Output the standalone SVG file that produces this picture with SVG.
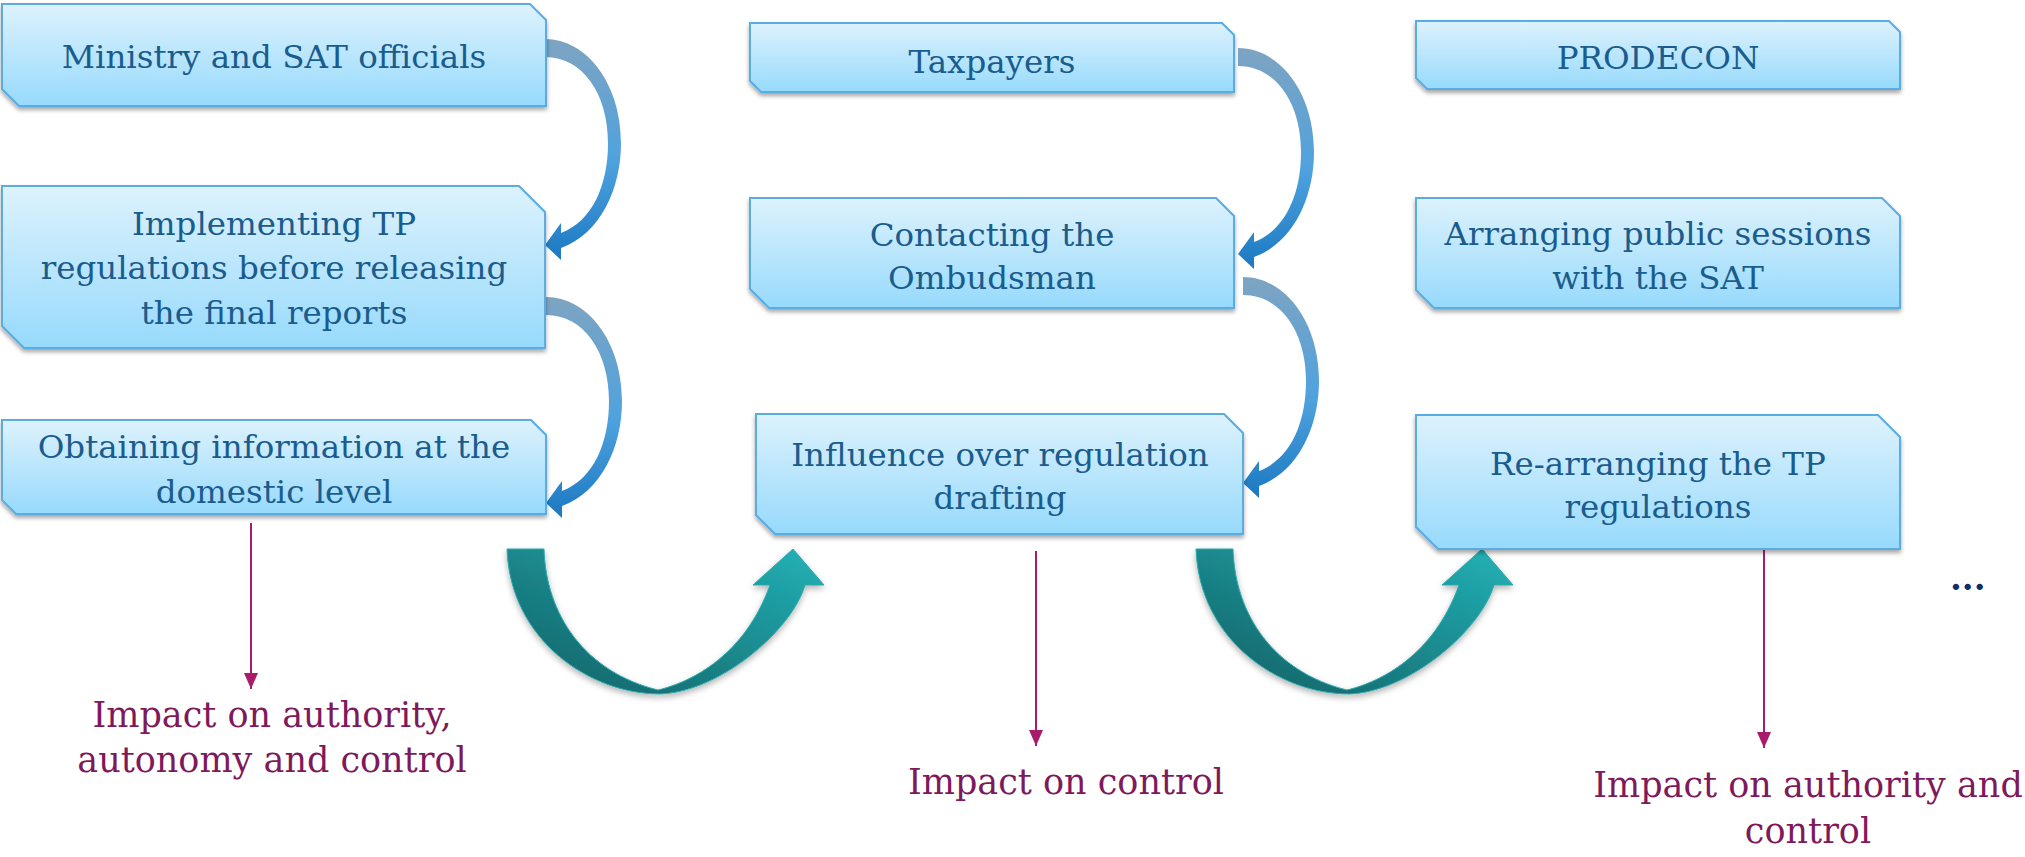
<svg xmlns="http://www.w3.org/2000/svg" width="2025" height="857" viewBox="0 0 2025 857">
<style>
.box{fill:url(#boxGrad);stroke:#5AACE4;stroke-width:2;filter:url(#shadow)}
.t{font-family:"DejaVu Serif","Liberation Serif",serif;font-size:32.5px;fill:#1B5C8E;text-anchor:middle}
.lbl{font-family:"DejaVu Serif","Liberation Serif",serif;font-size:35px;fill:#7E1A5B;text-anchor:middle}
.imp{stroke:#A91C6C;stroke-width:2;fill:none;marker-end:url(#magHead)}
.blue{fill:url(#blueGrad)}
.teal{fill:url(#tealGrad);stroke:#2AAAAE;stroke-width:1;filter:url(#shadow2)}
</style>
<defs>
<linearGradient id="boxGrad" x1="0" y1="0" x2="0" y2="1">
<stop offset="0" stop-color="#DDF2FD"/>
<stop offset="1" stop-color="#97DAFC"/>
</linearGradient>
<linearGradient id="blueGrad" x1="0" y1="0" x2="0" y2="1">
<stop offset="0" stop-color="#7EA4C2"/>
<stop offset="0.55" stop-color="#4FA2DE"/>
<stop offset="1" stop-color="#1B79C2"/>
</linearGradient>
<linearGradient id="tealGrad" x1="0" y1="1" x2="1" y2="0">
<stop offset="0" stop-color="#135E62"/>
<stop offset="1" stop-color="#22B2B7"/>
</linearGradient>
<filter id="shadow" x="-5%" y="-10%" width="110%" height="130%">
<feDropShadow dx="0" dy="3" stdDeviation="2" flood-color="#000" flood-opacity="0.35"/>
</filter>
<filter id="shadow2" x="-10%" y="-10%" width="120%" height="130%">
<feDropShadow dx="0" dy="3" stdDeviation="3" flood-color="#000" flood-opacity="0.3"/>
</filter>
<marker id="magHead" markerUnits="userSpaceOnUse" markerWidth="16" markerHeight="18" refX="16" refY="7" orient="auto">
<path d="M0,0 L16,7 L0,14 Z" fill="#A91C6C"/>
</marker>
<path id="blueArrow" d="M0,0 C42,0 76,45 76,104 C76,150 55,195 16,209 L16,221 L0,206 L16,184 L16,194 C48,182 63,145 63,104 C63,55 38,18 0,18 Z"/>
<path id="tealArrow" d="M507,549 H544 C546,615 585,672 658,690 C692,682 745,655 770,585 L753,585 L793,549 L824,585 L805,585 C792,630 720,692 660,694 C590,694 510,640 507,549 Z"/>
</defs>

<g id="connectors">
<use href="#blueArrow" class="blue" transform="translate(545,39)"/>
<use href="#blueArrow" class="blue" transform="translate(546,297)"/>
<use href="#blueArrow" class="blue" transform="translate(1238,48)"/>
<use href="#blueArrow" class="blue" transform="translate(1243,277)"/>
<use href="#tealArrow" class="teal"/>
<use href="#tealArrow" class="teal" transform="translate(689,0)"/>
<line class="imp" x1="251" y1="523" x2="251" y2="689"/>
<line class="imp" x1="1036" y1="551" x2="1036" y2="746"/>
<line class="imp" x1="1764" y1="550" x2="1764" y2="748"/>
</g>

<g id="n-ministry">
<path class="box" d="M2,4 H530 L546,20 V106 H19 L2,89 Z"/>
<text class="t" x="274" y="68">Ministry and SAT officials</text>
</g>
<g id="n-implementing">
<path class="box" d="M2,186 H519 L545,212 V348 H24 L2,326 Z"/>
<text class="t" x="274" y="235">Implementing TP</text>
<text class="t" x="274" y="279">regulations before releasing</text>
<text class="t" x="274" y="324">the final reports</text>
</g>
<g id="n-obtaining">
<path class="box" d="M2,420 H531 L546,435 V514 H16 L2,500 Z"/>
<text class="t" x="274" y="458">Obtaining information at the</text>
<text class="t" x="274" y="503">domestic level</text>
</g>
<g id="n-taxpayers">
<path class="box" d="M750,23 H1222 L1234,35 V92 H761 L750,81 Z"/>
<text class="t" x="992" y="73">Taxpayers</text>
</g>
<g id="n-contacting">
<path class="box" d="M750,198 H1216 L1234,216 V308 H769 L750,289 Z"/>
<text class="t" x="992" y="246">Contacting the</text>
<text class="t" x="992" y="289">Ombudsman</text>
</g>
<g id="n-influence">
<path class="box" d="M756,414 H1224 L1243,433 V534 H775 L756,515 Z"/>
<text class="t" x="1000" y="466">Influence over regulation</text>
<text class="t" x="1000" y="509">drafting</text>
</g>
<g id="n-prodecon">
<path class="box" d="M1416,21 H1889 L1900,32 V89 H1427 L1416,78 Z"/>
<text class="t" x="1658" y="69">PRODECON</text>
</g>
<g id="n-arranging">
<path class="box" d="M1416,198 H1882 L1900,216 V308 H1434 L1416,290 Z"/>
<text class="t" x="1658" y="245">Arranging public sessions</text>
<text class="t" x="1658" y="289">with the SAT</text>
</g>
<g id="n-rearranging">
<path class="box" d="M1416,415 H1878 L1900,437 V549 H1438 L1416,527 Z"/>
<text class="t" x="1658" y="475">Re-arranging the TP</text>
<text class="t" x="1658" y="518">regulations</text>
</g>

<g id="n-impact-left">
<text class="lbl" x="272" y="727">Impact on authority,</text>
<text class="lbl" x="272" y="772">autonomy and control</text>
</g>
<g id="n-impact-mid">
<text class="lbl" x="1066" y="794">Impact on control</text>
</g>
<g id="n-impact-right">
<text class="lbl" x="1808" y="797">Impact on authority and</text>
<text class="lbl" x="1808" y="843">control</text>
</g>
<g id="n-more">
<text x="1950" y="590" style="font-family:'DejaVu Serif',serif;font-size:34px;font-weight:bold;fill:#0D2D6B">...</text>
</g>
</svg>
